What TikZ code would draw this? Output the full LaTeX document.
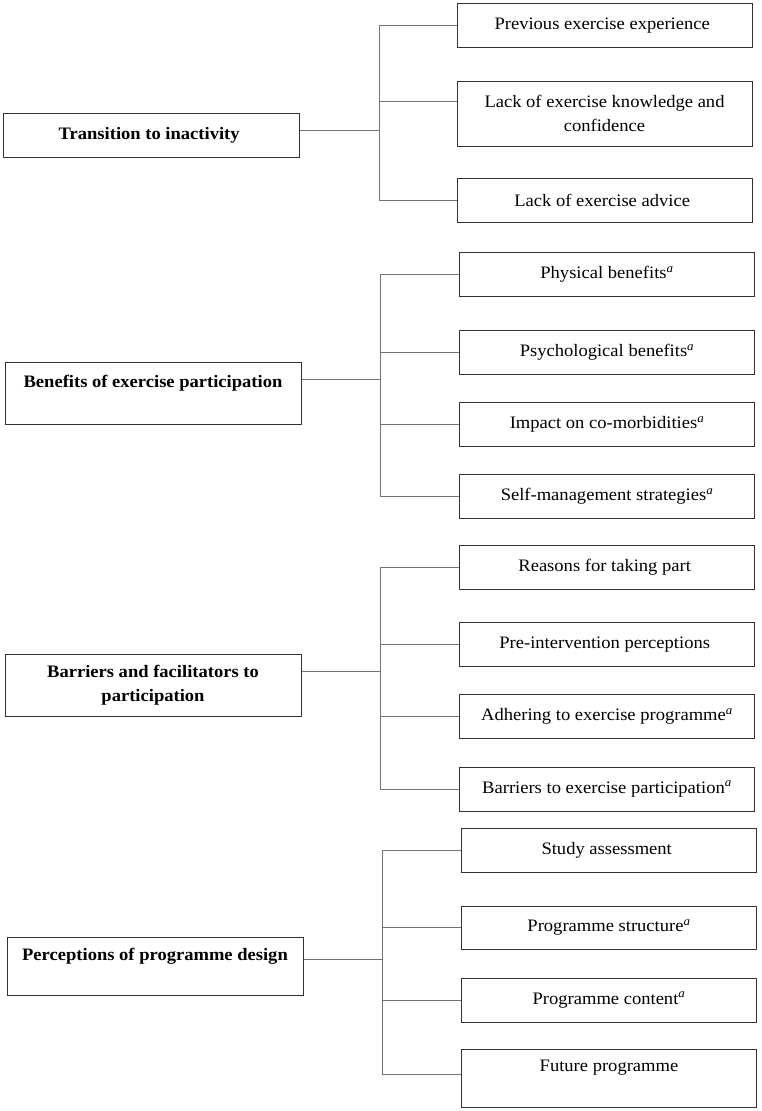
\documentclass[tikz,border=0pt]{standalone}
\usepackage{fontspec}
\setmainfont{Liberation Serif}[FakeStretch=1.06]
\usepackage{tikz}
\usetikzlibrary{calc}

\tikzset{
  theme/.style={draw=black!80, line width=1pt, minimum width=296pt, minimum height=44pt,
    inner sep=0pt, align=center, font=\fontsize{17.5}{24}\selectfont\bfseries},
  sub/.style={draw=black!80, line width=1pt, minimum width=295pt, minimum height=44pt,
    inner sep=0pt, align=center, font=\fontsize{17.5}{24}\selectfont},
  link/.style={draw=black!55, line width=1pt}
}
\newcommand{\supa}{\textsuperscript{\textit{a}}}

\begin{document}
\begin{tikzpicture}[x=1pt, y=-1pt]
    \useasboundingbox (0,0) rectangle (761,1111);

    % Transition to inactivity
    \node [theme] (1) at (151.5,135) { Transition to inactivity };
    \node [sub] (11) at (604.5,25.5) { Previous exercise experience };
    \node [sub, minimum height=65pt] (12) at (604.5,113.5) { Lack of exercise knowledge and\\ confidence };
    \node [sub] (13) at (604.5,200) { Lack of exercise advice };
    \coordinate (j1) at (379,130);

    % Benefits of exercise participation
    \node [theme, minimum height=62pt] (2) at (153,393) { Benefits of exercise participation\\ ~ };
    \node [sub] (21) at (607,274.5) { Physical benefits\supa };
    \node [sub] (22) at (607,352.5) { Psychological benefits\supa };
    \node [sub] (23) at (607,424.5) { Impact on co-morbidities\supa };
    \node [sub] (24) at (607,496) { Self-management strategies\supa };
    \coordinate (j2) at (380,379);

    % Barriers and facilitators to participation
    \node [theme, minimum height=62pt] (3) at (153,685) { Barriers and facilitators to\\ participation };
    \node [sub] (31) at (607,567) { Reasons for taking part };
    \node [sub] (32) at (607,644.5) { Pre-intervention perceptions };
    \node [sub] (33) at (607,716.5) { Adhering to exercise programme\supa };
    \node [sub] (34) at (607,789) { Barriers to exercise participation\supa };
    \coordinate (j3) at (380,671);

    % Perceptions of programme design
    \node [theme, minimum height=58pt] (4) at (155,966) { Perceptions of programme design\\ ~ };
    \node [sub] (41) at (609,850) { Study assessment };
    \node [sub, minimum height=43pt] (42) at (609,927.5) { Programme structure\supa };
    \node [sub] (43) at (609,1000) { Programme content\supa };
    \node [sub, minimum height=58pt] (44) at (609,1078) { Future programme\\ ~ };
    \coordinate (j4) at (382,959);

    \draw [link] (1.east |- j1) -- (j1);
    \draw [link] (j1) |- (11.west);
    \draw [link] (j1) |- ([yshift=12.5pt]12.west);
    \draw [link] (j1) |- (13.west);

    \draw [link] (2.east |- j2) -- (j2);
    \foreach \n in {21,22,23,24}
        \draw [link] (j2) |- (\n.west);

    \draw [link] (3.east |- j3) -- (j3);
    \foreach \n in {31,32,33,34}
        \draw [link] (j3) |- (\n.west);

    \draw [link] (4.east |- j4) -- (j4);
    \foreach \n in {41,42,43}
        \draw [link] (j4) |- (\n.west);
    \draw [link] (j4) |- ([yshift=4pt]44.west);
\end{tikzpicture}
\end{document}
